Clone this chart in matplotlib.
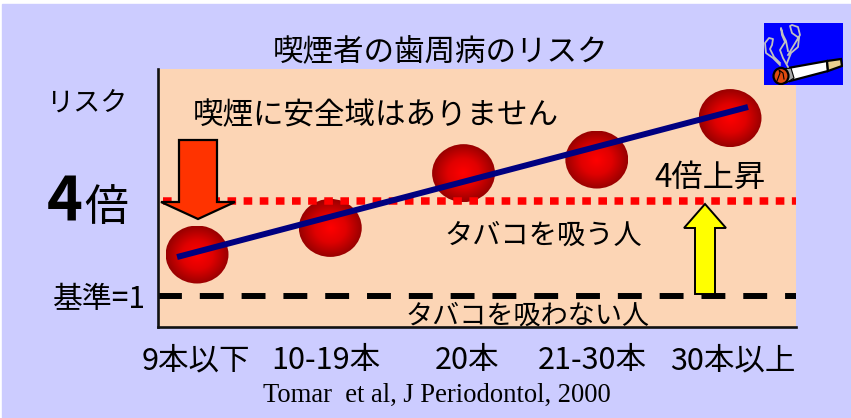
"""Risk of periodontal disease by number of cigarettes per day."""
import matplotlib
matplotlib.use("Agg")
import matplotlib.pyplot as plt
import numpy as np
from matplotlib.colors import LinearSegmentedColormap
from matplotlib.patches import Ellipse, Polygon, Rectangle
from matplotlib.transforms import Affine2D, ScaledTranslation

plt.rcParams['font.family'] = ['Noto Sans CJK JP', 'DejaVu Sans']

categories = ["9本以下", "10-19本", "20本", "21-30本", "30本以上"]
risk_values = [2.31, 3.15, 4.88, 5.31, 6.62]
trend_x = [-0.15, 4.135]
trend_y = [2.23, 6.97]
smoker_level = 4
baseline_level = 1

BG = '#CCCCFF'
PLOT_BG = '#FCD5B5'
W, H = 851, 418

sphere_cmap = LinearSegmentedColormap.from_list("sphere", ['#FF0000', '#E00000', '#990000'])


def draw_sphere(ax, x, y, rx=0.236, ry=0.916):
    # radial shading, clipped to an ellipse
    u, v = np.meshgrid(np.linspace(-1, 1, 120), np.linspace(-1, 1, 120))
    shade = np.clip(np.hypot(u, v), 0, 1)
    im = ax.imshow(shade, extent=(x - rx, x + rx, y - ry, y + ry), origin='lower',
                   cmap=sphere_cmap, vmin=0, vmax=1, aspect='auto', zorder=2)
    im.set_clip_path(Ellipse((x, y), 2 * rx, 2 * ry, transform=ax.transData))


def draw_icon(fig):
    # cigarette picture, coordinates are pixels inside the blue square
    icon = fig.add_axes([764 / W, 1 - 85 / H, 79 / W, 62 / H], zorder=5)
    icon.set_xlim(0, 79)
    icon.set_ylim(62, 0)
    icon.axis('off')
    icon.add_patch(Rectangle((0, 0), 79, 62, color='#0000FF', zorder=0))
    smoke = [
        ([16, 9, 2, 1, 5, 9, 8, 6, 10, 16], [42, 35, 30, 20, 15, 16, 22, 26, 34, 40]),
        ([24, 19, 16, 21, 18, 17, 19, 22, 24], [44, 35, 27, 19, 12, 5, 12, 18, 28]),
        ([23, 27, 34, 35, 28, 26, 28, 34, 36, 30, 24], [40, 30, 24, 15, 10, 3, 2, 4, 12, 22, 32]),
    ]
    for sx, sy in smoke:
        icon.plot(sx, sy, color='#C0C0C0', lw=1.3)
    icon.add_patch(Polygon([(24, 45), (63, 38), (64, 48), (26, 58)], fc='white', ec='black', lw=1.6))
    icon.add_patch(Polygon([(63, 38), (77, 36), (78, 43), (64, 48)], fc='#E8CF8F', ec='black', lw=1.6))
    icon.add_patch(Polygon([(19, 46), (27, 45), (30, 55), (22, 60)], fc='#A8A8A8', ec='black', lw=0.8))
    icon.add_patch(Ellipse((17, 53), 15, 16, fc='#E04A10', ec='black', lw=1.6))
    icon.plot([13, 16, 15, 19, 20], [58, 50, 47, 50, 56], color='black', lw=0.8)


fig = plt.figure(figsize=(W / 100, H / 100), dpi=100, facecolor='white')
# pixel transform for the captions and block arrows
px = Affine2D().scale(1 / W, -1 / H).translate(0, 1) + fig.transFigure

fig.add_artist(Rectangle((2, 4), W, H, transform=px, color=BG, zorder=-1))

ax = fig.add_axes([158 / W, 1 - 327 / H, 638 / W, 258 / H], zorder=1)
ax.set_facecolor(PLOT_BG)

for i, val in enumerate(risk_values):
    draw_sphere(ax, i, val)

ax.plot([-0.255, 4.495], [smoker_level, smoker_level], color='#FF0000', lw=5.4,
        linestyle=(0, (1.15, 1.0)), dash_capstyle='butt', zorder=3)
ax.plot([-0.293, 4.495], [baseline_level, baseline_level], color='black', lw=4.3,
        linestyle=(0, (4, 3)), dash_capstyle='butt', zorder=3)
ax.plot(trend_x, trend_y, color='#000080', lw=4.3, solid_capstyle='butt', zorder=4)

ax.set_xlim(-0.293, 4.495)
ax.set_ylim(0.02, 8.17)

ax.set_xticks(range(len(categories)))
ax.set_xticklabels(categories, fontsize=22)
ax.set_yticks([])
ax.tick_params(axis='x', length=0, pad=13)
# the category captions are not spaced quite evenly
for tick_label, shift in zip(ax.get_xticklabels(), [-1, -4, 3.5, -4.5, 2.5]):
    tick_label.set_transform(tick_label.get_transform() + ScaledTranslation(shift / 100, 0, fig.dpi_scale_trans))
ax.spines['top'].set_visible(False)
ax.spines['right'].set_visible(False)
for side in ('left', 'bottom'):
    ax.spines[side].set_linewidth(1.9)
    ax.spines[side].set_color('#111111')
    ax.spines[side].set_zorder(5)

# block arrows
ax.add_patch(Polygon([(179, 140), (217, 140), (217, 202), (235, 202), (198, 219), (161, 202), (179, 202)],
                     transform=px, fc='#FF3300', ec='black', lw=1.6, zorder=6, clip_on=False))
ax.add_patch(Polygon([(695, 294), (715, 294), (715, 228), (726, 228), (705, 204), (684, 228), (695, 228)],
                     transform=px, fc='#FFFF00', ec='black', lw=1.4, zorder=6, clip_on=False))


def label(x, y, text, size, **kw):
    kw.setdefault('ha', 'center')
    fig.text(x, y, text, transform=px, fontsize=size, va='center', zorder=7, **kw)


label(440.5, 52, "喫煙者の歯周病のリスク", 22)
label(86.5, 103, "リスク", 19.5)
label(375.5, 116, "喫煙に安全域はありません", 22)
label(65, 204, "4", 44, fontweight='bold')
label(106.5, 208, "倍", 31.5)
label(99, 299, "基準=1", 21.5)
label(710, 178, "4倍上昇", 22.5)
label(543, 236, "タバコを吸う人", 20.3)
label(527.5, 316, "タバコを吸わない人", 19.5)
fig.text(437, 395, "Tomar  et al, J Periodontol, 2000", transform=px, fontsize=19.2, va='center',
         ha='center', family='Liberation Serif', zorder=7)

draw_icon(fig)

fig.savefig("out.png", dpi=100)
